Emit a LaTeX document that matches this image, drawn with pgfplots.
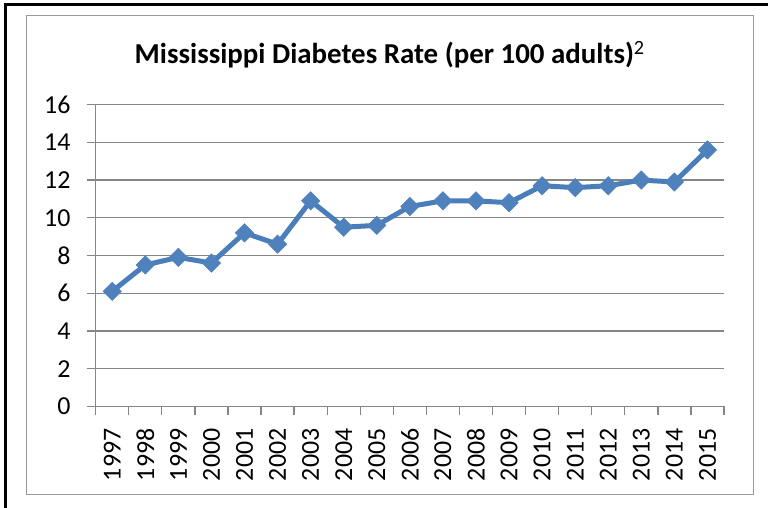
\documentclass[border=0pt]{standalone}
\usepackage{fontspec}
\setmainfont{Carlito}
\usepackage{pgfplots}
\pgfplotsset{compat=1.18}
\definecolor{serblue}{HTML}{4A7EBB}
\definecolor{mkblue}{HTML}{4F81BD}
\definecolor{axgray}{HTML}{868686}
\definecolor{frgray}{HTML}{9A9A9A}
\begin{document}
\begin{tikzpicture}
\useasboundingbox (0,0) rectangle (768bp,508bp);
\fill[white] (0,0) rectangle (768bp,508bp);
\draw[black,line width=3bp] (5.5bp,0) -- (5.5bp,503.5bp) -- (768bp,503.5bp);
\draw[frgray,line width=1bp] (26.7bp,13bp) -- (753.3bp,13bp) -- (753.3bp,492.3bp) -- (26.7bp,492.3bp) -- cycle;
\node[anchor=base,inner sep=0pt,font=\fontsize{29}{33}\selectfont] at (389.7bp,444.7bp) {\textbf{Mississippi Diabetes Rate (per 100 adults)}\textsuperscript{2}};
\begin{axis}[
  at={(95.7bp,101.7bp)}, anchor=south west,
  width=628.3bp, height=301.6bp, scale only axis,
  xmin=-0.5, xmax=18.5, ymin=0, ymax=16,
  axis x line=bottom, axis y line=left,
  axis line style={axgray,line width=1.3bp,-},
  xtick={0,...,18},
  xticklabels={1997,1998,1999,2000,2001,2002,2003,2004,2005,2006,2007,2008,2009,2010,2011,2012,2013,2014,2015},
  minor xtick={-0.5,0.5,...,18.5},
  ytick={0,2,...,16},
  tick align=outside,
  major x tick style={draw=none},
  minor x tick style={axgray,line width=1.3bp},
  minor tick length=9bp,
  major tick length=9bp,
  y tick style={axgray,line width=1.3bp},
  ymajorgrids,
  grid style={axgray,line width=1.3bp},
  tick label style={font=\fontsize{26}{29}\selectfont},
  /pgf/number format/assume math mode=true,
  xticklabel style={yshift=-13bp,rotate=90,anchor=east,inner sep=0pt},
  yticklabel style={anchor=east,inner sep=0pt,xshift=-16bp},
  clip=false,
]
\addplot[serblue,line width=5bp,mark=square*,mark size=6.5bp,
  mark options={rotate=45,fill=mkblue,draw=mkblue,line width=0.5bp}]
  coordinates {(0,6.1)(1,7.5)(2,7.9)(3,7.6)(4,9.2)(5,8.6)(6,10.9)(7,9.5)(8,9.6)(9,10.6)(10,10.9)(11,10.9)(12,10.8)(13,11.7)(14,11.6)(15,11.7)(16,12.0)(17,11.9)(18,13.6)};
\end{axis}
\end{tikzpicture}
\end{document}
